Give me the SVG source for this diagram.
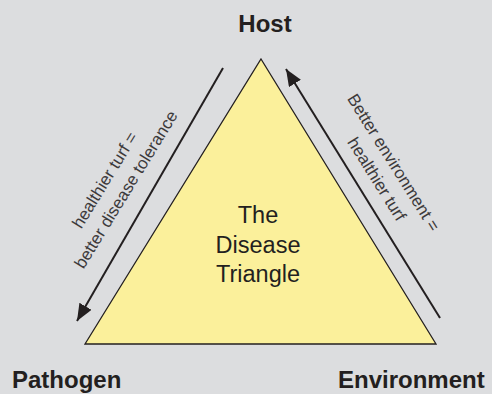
<svg xmlns="http://www.w3.org/2000/svg" width="492" height="394" viewBox="0 0 492 394">
  <style>
    .lbl { font-family: "Liberation Sans", Arial, sans-serif; font-weight: bold; font-size: 24px; fill: #231f20; }
    .center { font-family: "Liberation Sans", Arial, sans-serif; font-size: 23.5px; fill: #231f20; text-anchor: middle; }
    .side { font-family: "Liberation Sans", Arial, sans-serif; font-size: 17px; fill: #3c3a3b; text-anchor: middle; }
    .arrow { stroke: #231f20; stroke-width: 2; fill: none; marker-end: url(#head); }
  </style>
  <defs>
    <marker id="head" markerUnits="userSpaceOnUse" markerWidth="20" markerHeight="16" refX="17" refY="7" orient="auto">
      <path d="M0,0 L17,7 L0,14 Z" fill="#231f20"/>
    </marker>
  </defs>
  <rect x="0" y="0" width="492" height="394" fill="#dcdddf"/>

  <g id="triangle">
    <polygon points="261,59 436,344 85,344" fill="#fbf09b" stroke="#231f20" stroke-width="1.3" stroke-linejoin="miter"/>
    <text class="center" x="258" y="223">The</text>
    <text class="center" x="258" y="253">Disease</text>
    <text class="center" x="258" y="282">Triangle</text>
  </g>

  <g id="host">
    <text class="lbl" x="265" y="32" text-anchor="middle">Host</text>
  </g>
  <g id="pathogen">
    <text class="lbl" x="12" y="388">Pathogen</text>
  </g>
  <g id="environment">
    <text class="lbl" x="338" y="388">Environment</text>
  </g>

  <g id="connectors">
    <line class="arrow" x1="223" y1="68" x2="77" y2="321"/>
    <line class="arrow" x1="440" y1="318" x2="286" y2="69"/>
  </g>

  <g id="label-left" transform="translate(108,182) rotate(-58.5)">
    <text class="side" x="0" y="2">healthier turf =</text>
    <text class="side" x="3" y="25">better disease tolerance</text>
  </g>
  <g id="label-right" transform="translate(393,163) rotate(58)">
    <text class="side" x="0" y="5">Better environment =</text>
    <text class="side" x="5" y="28">healthier turf</text>
  </g>
</svg>
